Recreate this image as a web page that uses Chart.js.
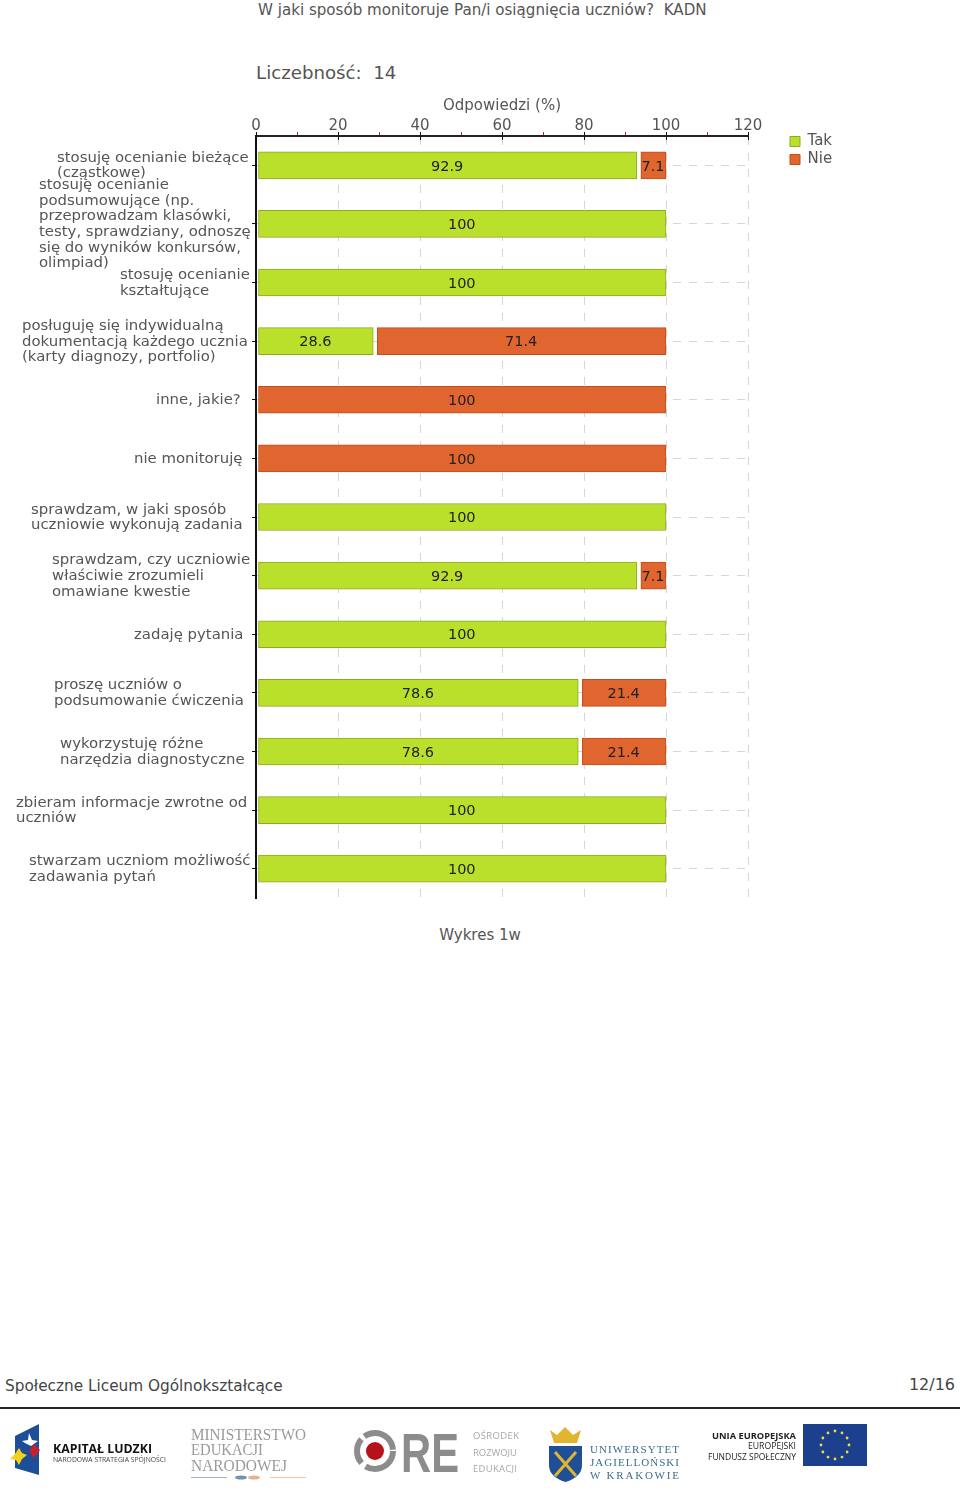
<!DOCTYPE html>
<html lang="pl">
<head>
<meta charset="utf-8">
<title>Wykres 1w</title>
<script src="https://cdn.jsdelivr.net/npm/chart.js@4"></script>
<style>
  html, body { margin: 0; background: #fff; }
  body { position: relative; width: 960px; height: 1496px; overflow: hidden; font-family: "DejaVu Sans", sans-serif; color: #555; }
  .txt { position: absolute; white-space: pre; line-height: 1; }
  #chartBox { position: absolute; left: 0; top: 0; width: 960px; height: 910px; }
  #logos { position: absolute; left: 0; top: 0; }
</style>
</head>
<body>
<div class="txt" style="left:258px;top:3px;font-size:15.1px">W jaki sposób monitoruje Pan/i osiągnięcia uczniów?  KADN</div>
<div class="txt" style="left:256px;top:64px;font-size:18.2px">Liczebność:  14</div>
<div id="chartBox"><canvas id="chart" width="960" height="910"></canvas></div>
<div class="txt" style="left:0;width:960px;text-align:center;top:928px;font-size:15px">Wykres 1w</div>
<div class="txt" style="left:5px;top:1379px;font-size:15.3px;color:#444">Społeczne Liceum Ogólnokształcące</div>
<div class="txt" style="right:5px;top:1377px;font-size:16px;color:#444">12/16</div>

<svg id="logos" width="960" height="1496" xmlns="http://www.w3.org/2000/svg">
  <rect x="0" y="1407" width="960" height="2" fill="#222"/>
  <!-- Kapital Ludzki -->
  <polygon points="15,1436 39,1424 39,1475 15,1468" fill="#1d4f96"/>
  <polygon points="29,1433 32,1440 38,1441 31,1446 25,1443 22,1441 28,1440" fill="#fff"/>
  <polygon points="19,1448 22,1453 27,1455 22,1459 19,1465 16,1460 10,1459 15,1454" fill="#f2d21f"/>
  <polygon points="34,1444 40,1450 34,1458 29,1451" fill="#c8202f"/>
  <text x="53" y="1453" font-family="Open Sans, sans-serif" font-weight="700" font-size="13" fill="#111" textLength="99" lengthAdjust="spacingAndGlyphs">KAPITAŁ LUDZKI</text>
  <text x="53" y="1462" font-family="Open Sans, sans-serif" font-size="7" fill="#444" textLength="113" lengthAdjust="spacingAndGlyphs">NARODOWA STRATEGIA SPÓJNOŚCI</text>
  <!-- MEN -->
  <g font-family="Liberation Serif, serif" font-size="16" fill="#9a9a9a">
    <text x="191" y="1440" textLength="115" lengthAdjust="spacingAndGlyphs">MINISTERSTWO</text>
    <text x="191" y="1455" textLength="72" lengthAdjust="spacingAndGlyphs">EDUKACJI</text>
    <text x="191" y="1471" textLength="96" lengthAdjust="spacingAndGlyphs">NARODOWEJ</text>
  </g>
  <rect x="191" y="1477" width="36" height="1" fill="#9fb2c4"/>
  <rect x="270" y="1477" width="36" height="1" fill="#e9c6a4"/>
  <ellipse cx="241" cy="1477.5" rx="6" ry="2" fill="#6f93b5"/>
  <ellipse cx="254" cy="1477.5" rx="6" ry="2" fill="#e6b48a"/>
  <!-- ORE -->
  <circle cx="375" cy="1451" r="18" fill="none" stroke="#8c8c8c" stroke-width="6" stroke-dasharray="38 5 26 4"/>
  <circle cx="375" cy="1451" r="9" fill="#b5121b"/>
  <text x="401" y="1472" font-family="Liberation Sans, sans-serif" font-weight="700" font-size="56" fill="#8c8c8c" textLength="58" lengthAdjust="spacingAndGlyphs">RE</text>
  <g font-family="Open Sans, sans-serif" font-size="9.5" fill="#a8a8a8">
    <text x="473" y="1439" textLength="46">OŚRODEK</text>
    <text x="473" y="1456" textLength="44">ROZWOJU</text>
    <text x="473" y="1472" textLength="44">EDUKACJI</text>
  </g>
  <!-- UJ -->
  <polygon points="550,1430 557,1435 565,1427 573,1435 581,1430 577,1443 554,1443" fill="#e2b52e"/>
  <path d="M549 1446 H582 V1465 Q582 1477 565.5 1482 Q549 1477 549 1465 Z" fill="#1f4f97"/>
  <path d="M555 1452 L576 1476 M576 1452 L555 1476" stroke="#e2b52e" stroke-width="3"/>
  <g font-family="Liberation Serif, serif" font-size="11" fill="#3a6e8e">
    <text x="590" y="1453" textLength="89">UNIWERSYTET</text>
    <text x="590" y="1466" textLength="89">JAGIELLOŃSKI</text>
    <text x="590" y="1479" textLength="89">W KRAKOWIE</text>
  </g>
  <!-- EU -->
  <g font-family="Open Sans, sans-serif" font-size="9.5" fill="#222">
    <text x="712" y="1439" font-weight="700" textLength="84" lengthAdjust="spacingAndGlyphs">UNIA EUROPEJSKA</text>
    <text x="748" y="1449" textLength="48" lengthAdjust="spacingAndGlyphs">EUROPEJSKI</text>
    <text x="708" y="1460" textLength="88" lengthAdjust="spacingAndGlyphs">FUNDUSZ SPOŁECZNY</text>
  </g>
  <rect x="803" y="1424" width="64" height="42" fill="#1c3f8e"/>
  <g id="stars" fill="#f0dc3c"></g>
</svg>

<script>
const categories = [
  ["stosuję ocenianie bieżące", "(cząstkowe)"],
  ["stosuję ocenianie", "podsumowujące (np.", "przeprowadzam klasówki,", "testy, sprawdziany, odnoszę", "się do wyników konkursów,", "olimpiad)"],
  ["stosuję ocenianie", "kształtujące"],
  ["posługuję się indywidualną", "dokumentacją każdego ucznia", "(karty diagnozy, portfolio)"],
  ["inne, jakie?"],
  ["nie monitoruję"],
  ["sprawdzam, w jaki sposób", "uczniowie wykonują zadania"],
  ["sprawdzam, czy uczniowie", "właściwie zrozumieli", "omawiane kwestie"],
  ["zadaję pytania"],
  ["proszę uczniów o", "podsumowanie ćwiczenia"],
  ["wykorzystuję różne", "narzędzia diagnostyczne"],
  ["zbieram informacje zwrotne od", "uczniów"],
  ["stwarzam uczniom możliwość", "zadawania pytań"]
];
const tak = [92.9, 100, 100, 28.6, null, null, 100, 92.9, 100, 78.6, 78.6, 100, 100];
const nie = [7.1, null, null, 71.4, 100, 100, null, 7.1, null, 21.4, 21.4, null, null];

const FONT = '"DejaVu Sans", sans-serif';
// lewa krawedz kazdego bloku etykiety
const labelLeft = [57, 39, 120, 22, 156, 134, 31, 52, 134, 54, 60, 16, 29];

// gwiazdki na fladze UE
const stars = document.getElementById("stars");
for (let i = 0; i < 12; i++) {
  const a = i * Math.PI / 6;
  const c = document.createElementNS("http://www.w3.org/2000/svg", "circle");
  c.setAttribute("cx", 835 + 14 * Math.cos(a));
  c.setAttribute("cy", 1445 + 14 * Math.sin(a));
  c.setAttribute("r", 1.4);
  stars.appendChild(c);
}

// odstep miedzy segmentami slupka i od osi
const barGaps = {
  id: "barGaps",
  afterDatasetsUpdate(chart) {
    chart.getSortedVisibleDatasetMetas().forEach(meta => {
      const zero = chart.scales.x.getPixelForValue(0);
      meta.data.forEach(bar => {
        bar.base += Math.abs(bar.base - zero) < 1 ? 2 : 4;
      });
    });
  }
};

// wartosci na slupkach
const barValues = {
  id: "barValues",
  afterDatasetsDraw(chart) {
    const ctx = chart.ctx;
    ctx.save();
    ctx.font = "14.5px " + FONT;
    ctx.fillStyle = "#222";
    ctx.textAlign = "center";
    ctx.textBaseline = "middle";
    chart.getSortedVisibleDatasetMetas().forEach(meta => {
      const values = chart.data.datasets[meta.index].data;
      meta.data.forEach((bar, i) => {
        if (values[i] === null) return;
        ctx.fillText(String(values[i]), (bar.base + bar.x) / 2 - 0.5, bar.y + 1.5);
      });
    });
    ctx.restore();
  }
};

// etykiety kategorii: wyrownane do lewej w bloku, blok przy osi
const categoryLabels = {
  id: "categoryLabels",
  afterDraw(chart) {
    const ctx = chart.ctx;
    const y = chart.scales.y;
    ctx.save();
    ctx.font = "14.9px " + FONT;
    ctx.fillStyle = "#555";
    ctx.textAlign = "left";
    ctx.textBaseline = "middle";
    categories.forEach((lines, i) => {
      const top = y.getPixelForTick(i) - (lines.length - 1) * 15.6 / 2 + 0.5;
      lines.forEach((l, k) => ctx.fillText(l, labelLeft[i], top + k * 15.6));
    });
    ctx.restore();
  }
};

// dolna czesc glownych znacznikow osi X
const innerTicks = {
  id: "innerTicks",
  afterDraw(chart) {
    const ctx = chart.ctx;
    const x = chart.scales.x;
    ctx.save();
    ctx.strokeStyle = "#111";
    x.ticks.forEach(t => {
      if (t.value % 20 !== 0) return;
      const px = Math.round(x.getPixelForValue(t.value)) + 0.5;
      ctx.beginPath();
      ctx.moveTo(px, chart.chartArea.top);
      ctx.lineTo(px, chart.chartArea.top + 4);
      ctx.stroke();
    });
    ctx.restore();
  }
};

// legenda poza obszarem wykresu
const placeLegend = {
  id: "placeLegend",
  afterLayout(chart) {
    const lg = chart.legend;
    lg.left = 787;
    lg.top = 131;
    lg.right = 880;
    lg.bottom = 180;
  }
};

new Chart(document.getElementById("chart"), {
  type: "bar",
  data: {
    labels: categories,
    datasets: [
      { label: "Tak", data: tak, backgroundColor: "#bbe02c", borderColor: "#8fa822", borderWidth: 1, borderSkipped: false, barThickness: 27 },
      { label: "Nie", data: nie, backgroundColor: "#e0652e", borderColor: "#bf4f1d", borderWidth: 1, borderSkipped: false, barThickness: 27 }
    ]
  },
  plugins: [barGaps, barValues, categoryLabels, innerTicks, placeLegend],
  options: {
    indexAxis: "y",
    responsive: false,
    animation: false,
    layout: { padding: { top: 97, right: 212, bottom: 12, left: 0 } },
    plugins: {
      tooltip: { enabled: false },
      legend: {
        position: "chartArea",
        align: "start",
        labels: { boxWidth: 10, boxHeight: 10, padding: 3, color: "#555", font: { family: FONT, size: 15 } }
      }
    },
    scales: {
      x: {
        position: "top",
        stacked: true,
        min: 0,
        max: 120,
        title: { display: true, text: "Odpowiedzi (%)", color: "#555", padding: 0, font: { family: FONT, size: 15 } },
        ticks: {
          stepSize: 10,
          autoSkip: false,
          maxRotation: 0,
          padding: -3,
          color: "#555",
          font: { family: FONT, size: 15 },
          callback: v => (v % 20 === 0 ? v : "")
        },
        grid: {
          color: c => (c.tick && c.tick.value % 20 === 0 && c.tick.value > 0 ? "#d6d6d6" : "rgba(0,0,0,0)"),
          tickColor: c => (c.tick && c.tick.value % 20 === 0 ? "#111" : "#c0202a"),
          tickLength: 4,
          tickBorderDash: []
        },
        border: { color: "#222", width: 2, dash: [8, 8] },
        afterFit(scale) { scale.height = 39; }
      },
      y: {
        stacked: true,
        ticks: { display: false },
        grid: { offset: false, color: "#d6d6d6", tickColor: "#111", tickLength: 4, tickBorderDash: [] },
        border: { color: "#111", width: 2, dash: [8, 8] },
        afterFit(scale) { scale.width = 256; }
      }
    }
  }
});
</script>
</body>
</html>
